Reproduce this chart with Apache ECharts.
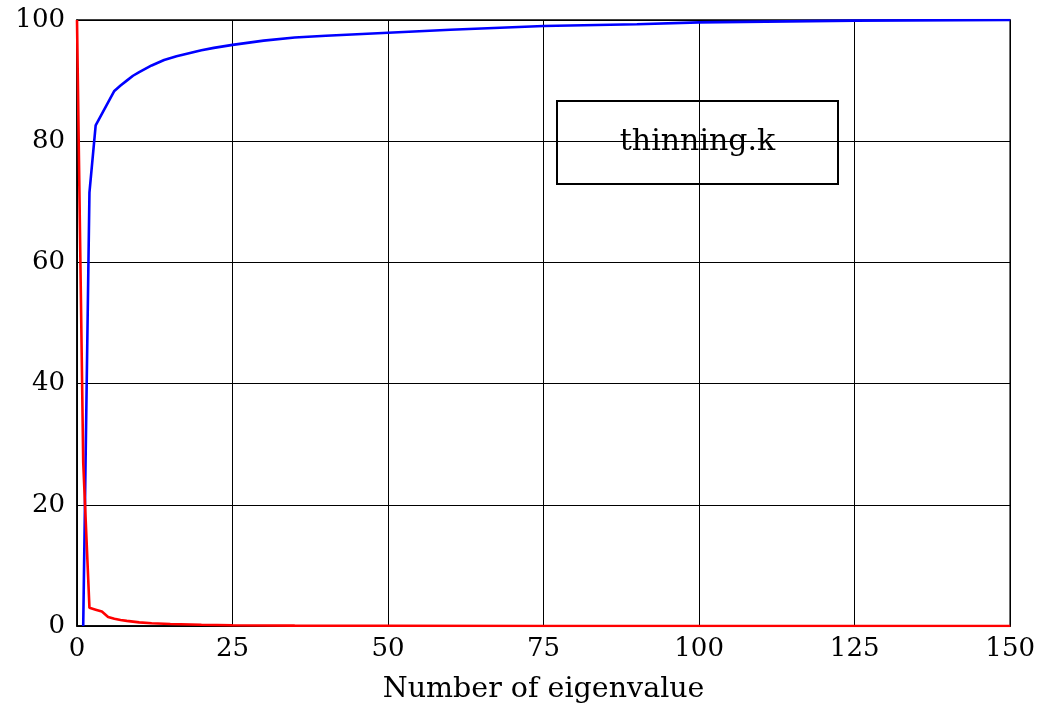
<!DOCTYPE html>
<html>
<head>
<meta charset="utf-8">
<script src="https://cdn.jsdelivr.net/npm/echarts@6/dist/echarts.min.js"></script>
<style>
  html, body { margin: 0; padding: 0; background: #fff; }
  #chart { width: 1038px; height: 709px; }
</style>
</head>
<body>
<div id="chart"></div>
<script>
// cumulative share (blue) and single eigenvalue share (red)
var blueX = [1, 2, 3, 6, 7, 8, 9, 10, 12, 14, 16, 18, 20, 22, 25, 30, 35, 40, 50, 60, 75, 90, 100, 125, 150];
var blueY = [0, 71.5, 82.6, 88.3, 89.2, 90.0, 90.8, 91.4, 92.5, 93.4, 94.0, 94.5, 95.0, 95.4, 95.9, 96.6, 97.1, 97.4, 97.9, 98.4, 99.0, 99.3, 99.6, 99.9, 100];
var redX = [0, 1, 2, 3, 4, 5, 6, 7, 8, 10, 12, 15, 20, 25, 35, 50, 75, 100, 150];
var redY = [100, 27, 3.0, 2.7, 2.4, 1.5, 1.2, 1.0, 0.85, 0.6, 0.45, 0.33, 0.2, 0.12, 0.06, 0.03, 0.01, 0.005, 0];
var xTicks = { min: 0, max: 150, step: 25 };
var yTicks = { min: 0, max: 100, step: 20 };
var legendText = 'thinning.k';
var xTitle = 'Number of eigenvalue';

function pairs(xs, ys) {
  var out = [];
  for (var i = 0; i < xs.length; i++) out.push([xs[i], ys[i]]);
  return out;
}

var font = 'DejaVu Serif';
var chart = echarts.init(document.getElementById('chart'));
var option = {
  backgroundColor: '#fff',
  animation: false,
  grid: {
    left: 77, right: 24, top: 20, bottom: 81,
    show: true, borderColor: '#000', borderWidth: 1.5
  },
  xAxis: {
    type: 'value',
    min: xTicks.min, max: xTicks.max, interval: xTicks.step,
    name: xTitle,
    nameLocation: 'middle',
    nameGap: 49,
    nameTextStyle: { fontFamily: font, fontSize: 28.5, color: '#000' },
    axisLine: { show: true, lineStyle: { color: '#000', width: 1.5 } },
    axisTick: { show: false },
    axisLabel: { fontFamily: font, fontSize: 26, color: '#000', margin: 10 },
    splitLine: { show: true, lineStyle: { color: '#000', width: 1 } }
  },
  yAxis: {
    type: 'value',
    min: yTicks.min, max: yTicks.max, interval: yTicks.step,
    axisLine: { show: true, lineStyle: { color: '#000', width: 1.5 } },
    axisTick: { show: false },
    axisLabel: { fontFamily: font, fontSize: 26, color: '#000', margin: 12 },
    splitLine: { show: true, lineStyle: { color: '#000', width: 1 } }
  },
  series: [
    {
      name: 'cumulative',
      type: 'line',
      data: pairs(blueX, blueY),
      showSymbol: false,
      lineStyle: { color: '#0000ff', width: 2.6 },
      itemStyle: { color: '#0000ff' },
      z: 3
    },
    {
      name: 'eigenvalue',
      type: 'line',
      data: pairs(redX, redY),
      showSymbol: false,
      lineStyle: { color: '#ff0000', width: 2.6 },
      itemStyle: { color: '#ff0000' },
      z: 4
    }
  ],
  graphic: [
    {
      type: 'group',
      left: 556, top: 100,
      children: [
        {
          type: 'rect',
          shape: { x: 0, y: 0, width: 281, height: 83 },
          style: { fill: '#fff', stroke: '#000', lineWidth: 2 }
        },
        {
          type: 'text',
          x: 140.5, y: 41.5,
          style: {
            text: legendText,
            fontFamily: font, fontSize: 30, fill: '#000',
            align: 'center', verticalAlign: 'middle'
          }
        }
      ],
      z: 10
    }
  ]
};
chart.setOption(option);
</script>
</body>
</html>
